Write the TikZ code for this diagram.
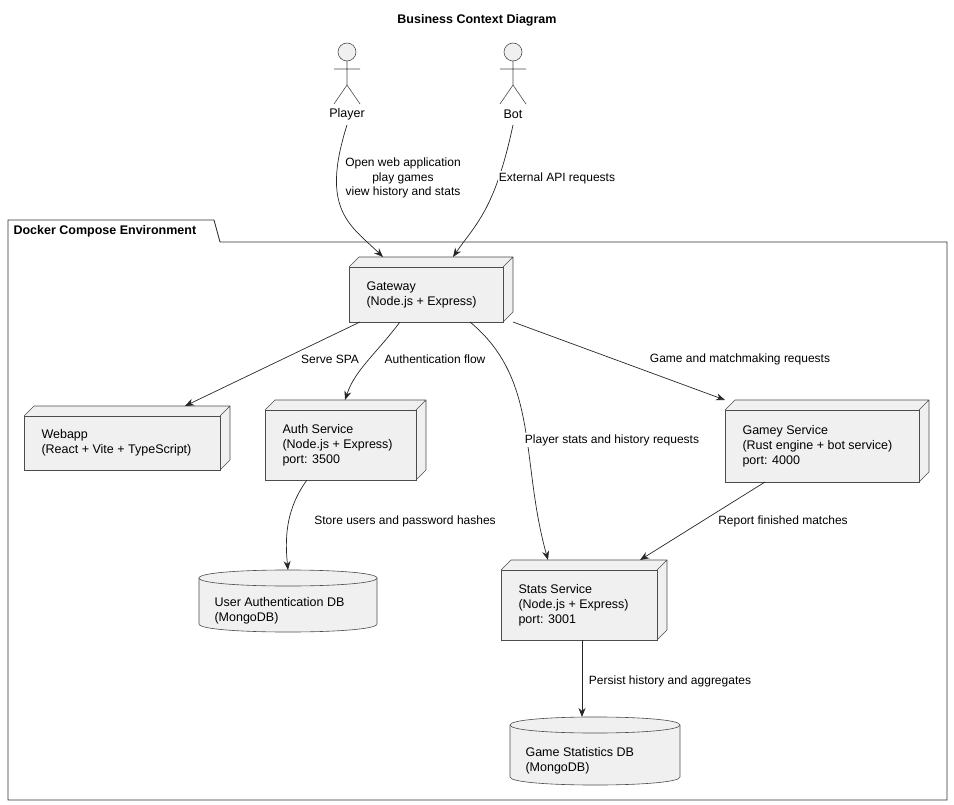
\documentclass[tikz,border=0pt]{standalone}
\usepackage{fontspec}
\setmainfont{Liberation Sans}
\usetikzlibrary{arrows.meta}
\begin{document}
\begin{tikzpicture}[x=1pt,y=-1pt,
  every node/.style={font=\fontsize{12.5}{15}\selectfont},
  arr/.style={-{Stealth[length=9pt,width=7pt]},line width=0.7pt,draw=black!85},
  lbl/.style={font=\fontsize{12}{14.5}\selectfont,align=center,fill=white,inner sep=1pt},
  act/.style={draw=black!70,fill=black!6,line width=0.6pt}]
\useasboundingbox (0,0) rectangle (954,805);
\node[font=\bfseries\fontsize{12.5}{15}\selectfont] (title) at (477,20) {Business Context Diagram};
% package
\draw[line width=0.9pt,draw=black!80] (8,242) -- (8,220) -- (214,220) -- (220,242) -- (947,242) -- (947,800) -- (8,800) -- cycle;
\node[font=\bfseries\fontsize{12.5}{15}\selectfont,anchor=west] (pkg) at (10,231) {Docker Compose Environment};
% actors
\foreach \x in {347,513}{
  \draw[act] (\x,52) circle (9);
  \draw[act] (\x,61) -- (\x,85) (\x-13,69) -- (\x+13,69) (\x,85) -- (\x-13,104) (\x,85) -- (\x+13,104);
}
\node (player) at (347,114) {Player};
\node (bot) at (513,114) {Bot};
% 3D boxes
\newcommand{\tdbox}[6]{%
  \fill[black!6] (#2,#3) -- (#2+10,#3-10) -- (#4+10,#3-10) -- (#4+10,#5-10) -- (#4,#5) -- (#4,#3) -- cycle;
  \draw[draw=black!70,line width=0.6pt] (#2,#3) -- (#2+10,#3-10) -- (#4+10,#3-10) -- (#4+10,#5-10) -- (#4,#5) (#4,#3) -- (#4+10,#3-10);
  \node[draw=black!70,fill=black!6,line width=0.6pt,minimum width=#4-#2,minimum height=#5-#3,anchor=north west,inner sep=0pt] (#1) at (#2,#3) {};
  \node[anchor=west,align=left] (#1t) at (#2+14,{(#3+#5)/2}) {#6};}
\tdbox{gw}{349}{267}{503}{322}{Gateway\\(Node.js + Express)}
\tdbox{web}{24}{416}{220}{470}{Webapp\\(React + Vite + TypeScript)}
\tdbox{auth}{265}{410}{416}{480}{Auth Service\\(Node.js + Express)\\port: 3500}
\tdbox{gamey}{725}{410}{919}{482}{Gamey Service\\(Rust engine + bot service)\\port: 4000}
\tdbox{stats}{501}{570}{657}{640}{Stats Service\\(Node.js + Express)\\port: 3001}
% dbs
\newcommand{\cyl}[6]{%
  \draw[draw=black!70,fill=black!6,line width=0.6pt] (#2,#3+8) .. controls (#2,#3-2.7) and (#4,#3-2.7) .. (#4,#3+8) -- (#4,#5-8) .. controls (#4,#5+2.7) and (#2,#5+2.7) .. (#2,#5-8) -- cycle;
  \draw[draw=black!70,line width=0.6pt] (#2,#3+8) .. controls (#2,#3+18.7) and (#4,#3+18.7) .. (#4,#3+8);
  \node[anchor=west,align=left] (#1) at (#2+12,{(#3+#5)/2+10}) {#6};}
\cyl{udb}{199}{570}{377}{632}{User Authentication DB\\(MongoDB)}
\cyl{gdb}{510}{717}{680}{785}{Game Statistics DB\\(MongoDB)}
% edges
\coordinate (p1) at (347,125); \coordinate (p2) at (383,257);
\draw[arr] (p1) .. controls (320,210) and (350,225) .. (p2);
\node[lbl] (l1) at (403,178) {Open web application\\play games\\view history and stats};
\coordinate (b1) at (513,125); \coordinate (b2) at (453,257);
\draw[arr] (b1) .. controls (495,210) and (475,225) .. (b2);
\node[lbl] (l2) at (557,178) {External API requests};
\coordinate (g1) at (360,322); \coordinate (w1) at (185,406);
\draw[arr] (g1) -- (w1);
\node[lbl] (l3) at (330,359) {Serve SPA};
\coordinate (g2) at (400,322); \coordinate (a1) at (345,400);
\draw[arr] (g2) .. controls (375,355) and (355,370) .. (a1);
\node[lbl] (l4) at (435,359) {Authentication flow};
\coordinate (g3) at (470,322); \coordinate (s1) at (548,560);
\draw[arr] (g3) .. controls (540,380) and (520,460) .. (s1);
\node[lbl] (l5) at (612,440) {Player stats and history requests};
\coordinate (g4) at (513,322); \coordinate (m1) at (725,400);
\draw[arr] (g4) -- (m1);
\node[lbl] (l6) at (740,359) {Game and matchmaking requests};
\coordinate (m2) at (765,482); \coordinate (s2) at (640,560);
\draw[arr] (m2) -- (s2);
\node[lbl] (l7) at (783,521) {Report finished matches};
\coordinate (a2) at (307,480); \coordinate (u1) at (288,570);
\draw[arr] (a2) .. controls (285,510) and (285,540) .. (u1);
\node[lbl] (l8) at (405,521) {Store users and password hashes};
\coordinate (s3) at (582,640); \coordinate (d1) at (582,717);
\draw[arr] (s3) -- (d1);
\node[lbl] (l9) at (670,681) {Persist history and aggregates};
\end{tikzpicture}
\end{document}
